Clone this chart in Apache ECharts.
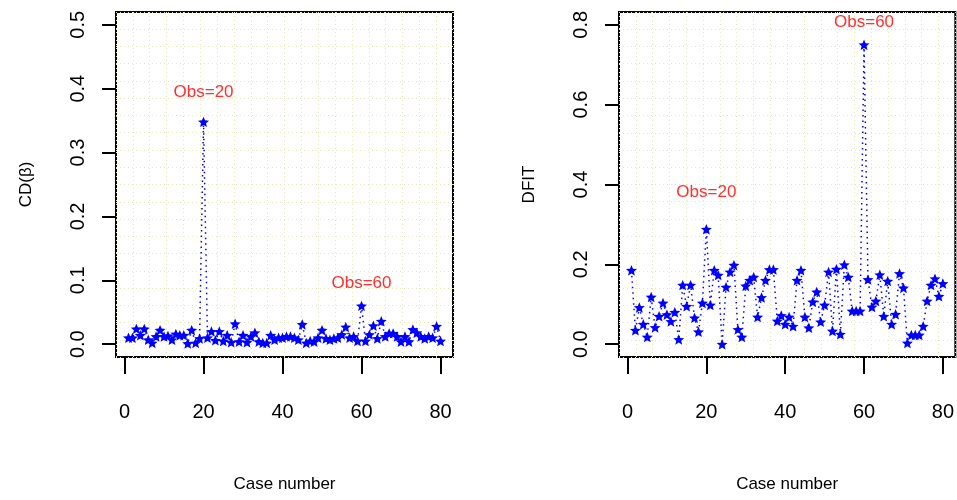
<!DOCTYPE html>
<html>
<head>
  <meta charset="utf-8">
  <title>CD and DFIT index plots</title>
  <script src="https://cdn.jsdelivr.net/npm/echarts@6/dist/echarts.min.js"></script>
  <style>
    html, body { margin: 0; padding: 0; background: #fff; }
    #main { width: 957px; height: 500px; }
  </style>
</head>
<body>
  <div id="main"></div>
  <script>
    // Cook's distance for each case (left panel)
    var cdValues = [
      0.010, 0.010, 0.024, 0.014, 0.024, 0.007, 0.002, 0.012, 0.022, 0.012,
      0.013, 0.007, 0.016, 0.014, 0.014, 0.001, 0.022, 0.002, 0.009, 0.348,
      0.010, 0.020, 0.006, 0.020, 0.005, 0.014, 0.003, 0.032, 0.004, 0.014,
      0.003, 0.012, 0.018, 0.004, 0.002, 0.002, 0.014, 0.007, 0.010, 0.010,
      0.012, 0.012, 0.010, 0.007, 0.031, 0.002, 0.005, 0.004, 0.010, 0.022,
      0.009, 0.007, 0.009, 0.010, 0.015, 0.027, 0.010, 0.012, 0.005, 0.060,
      0.005, 0.015, 0.029, 0.009, 0.036, 0.012, 0.017, 0.017, 0.012, 0.004,
      0.012, 0.004, 0.023, 0.018, 0.012, 0.009, 0.012, 0.010, 0.028, 0.005
    ];
    // DFIT for each case (right panel)
    var dfitValues = [
      0.185, 0.035, 0.092, 0.050, 0.018, 0.118, 0.042, 0.070, 0.103, 0.074,
      0.057, 0.080, 0.012, 0.148, 0.095, 0.148, 0.066, 0.031, 0.103, 0.288,
      0.098, 0.185, 0.173, 0.000, 0.143, 0.181, 0.198, 0.037, 0.018, 0.146,
      0.160, 0.168, 0.068, 0.117, 0.160, 0.187, 0.187, 0.058, 0.072, 0.050,
      0.068, 0.045, 0.160, 0.185, 0.068, 0.041, 0.106, 0.131, 0.056, 0.098,
      0.181, 0.033, 0.188, 0.025, 0.199, 0.168, 0.083, 0.083, 0.083, 0.750,
      0.162, 0.093, 0.108, 0.174, 0.070, 0.158, 0.050, 0.075, 0.177, 0.141,
      0.003, 0.023, 0.023, 0.023, 0.045, 0.108, 0.148, 0.164, 0.120, 0.152
    ];
    var xTicks = [0, 20, 40, 60, 80];
    var cdTicks = [0.0, 0.1, 0.2, 0.3, 0.4, 0.5];
    var dfitTicks = [0.0, 0.2, 0.4, 0.6, 0.8];
    // text(x, y, label) annotations
    var cdNotes = [['Obs=20', 20, 0.395], ['Obs=60', 60, 0.095]];
    var dfitNotes = [['Obs=20', 20, 0.38], ['Obs=60', 60, 0.805]];

    var chart = echarts.init(document.getElementById('main'));
    var font = 'Liberation Sans, Arial, sans-serif';
    var star = 'path://M0,-10 L2.65,-3.64 L9.51,-3.09 L4.28,1.39 L5.88,8.09 L0,4.5 L-5.88,8.09 L-4.28,1.39 L-9.51,-3.09 L-2.65,-3.64 Z';

    // R style: 4% padding around the data range
    var xMin = -2.16, xMax = 83.16;
    var cdMin = -0.02, cdMax = 0.52;
    var dfMin = -0.032, dfMax = 0.832;

    function mainX(idx) {
      return {
        type: 'value', gridIndex: idx, min: xMin, max: xMax, position: 'bottom',
        name: 'Case number', nameLocation: 'middle', nameGap: 119,
        nameTextStyle: { fontFamily: font, fontSize: 17, color: '#000' },
        axisLine: { show: false, onZero: false },
        axisTick: { show: true, inside: false, length: 17, customValues: xTicks, lineStyle: { color: '#000', width: 2 } },
        axisLabel: { customValues: xTicks, margin: 45, fontFamily: font, fontSize: 20, color: '#000' },
        splitLine: { show: false }
      };
    }
    function mainY(idx, mn, mx, ticks, name) {
      return {
        type: 'value', gridIndex: idx, min: mn, max: mx, position: 'left',
        name: name, nameLocation: 'middle', nameGap: 81, nameRotate: 90,
        nameTextStyle: { fontFamily: font, fontSize: 17, color: '#000' },
        axisLine: { show: false, onZero: false },
        axisTick: { show: true, inside: false, length: 14, customValues: ticks, lineStyle: { color: '#000', width: 2 } },
        axisLabel: { customValues: ticks, rotate: 90, margin: 28, fontFamily: font, fontSize: 20, color: '#000',
          formatter: function (v) { return v.toFixed(1); } },
        splitLine: { show: false }
      };
    }
    // grid(20, 20): dotted lines splitting the plot box into 20 cells
    function gridAxis(idx, mn, mx) {
      return {
        type: 'value', gridIndex: idx, min: mn, max: mx, interval: (mx - mn) / 20,
        axisLine: { show: false, onZero: false }, axisTick: { show: false }, axisLabel: { show: false },
        splitLine: { show: true, lineStyle: { color: '#e6e6bc', type: [1, 3], width: 1 } }
      };
    }
    function notes(list) {
      return {
        symbolSize: 0,
        label: { show: true, position: 'inside', formatter: '{b}', color: '#ff3030',
          fontFamily: 'Liberation Sans Narrow, Liberation Sans, sans-serif', fontSize: 17 },
        data: list.map(function (n) { return { name: n[0], coord: [n[1], n[2]] }; })
      };
    }
    function pts(vals) {
      return vals.map(function (v, i) { return [i + 1, v]; });
    }
    function lineSeries(idx, vals, list) {
      return {
        type: 'line', xAxisIndex: idx, yAxisIndex: idx, data: pts(vals),
        symbol: star, symbolSize: 11, symbolKeepAspect: true, showSymbol: true,
        itemStyle: { color: '#0000ff' },
        lineStyle: { color: '#0000ff', width: 1.5, type: [1.5, 4] },
        animation: false,
        markPoint: notes(list)
      };
    }

    chart.setOption({
      animation: false,
      grid: [
        { left: 116, top: 12, width: 337, height: 345, show: true, borderColor: '#000', borderWidth: 2, containLabel: false },
        { left: 619, top: 12, width: 337, height: 345, show: true, borderColor: '#000', borderWidth: 2, containLabel: false }
      ],
      xAxis: [mainX(0), mainX(1), gridAxis(0, xMin, xMax), gridAxis(1, xMin, xMax)],
      yAxis: [
        mainY(0, cdMin, cdMax, cdTicks, 'CD(β)'),
        mainY(1, dfMin, dfMax, dfitTicks, 'DFIT'),
        gridAxis(0, cdMin, cdMax),
        gridAxis(1, dfMin, dfMax)
      ],
      series: [
        lineSeries(0, cdValues, cdNotes),
        lineSeries(1, dfitValues, dfitNotes)
      ]
    });
  </script>
</body>
</html>
